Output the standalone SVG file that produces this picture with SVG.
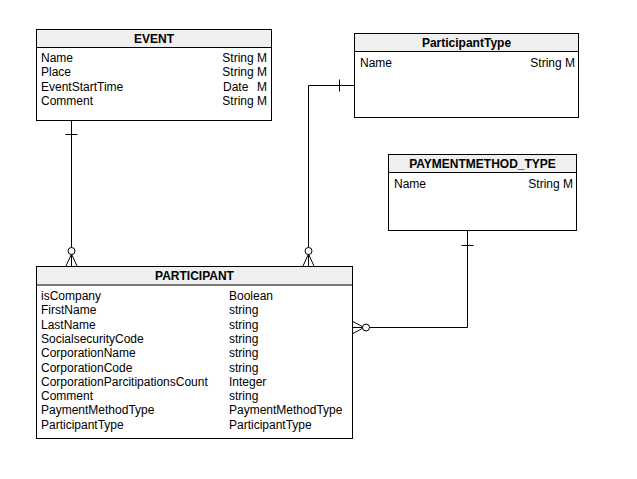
<svg xmlns="http://www.w3.org/2000/svg" width="637" height="479" viewBox="0 0 637 479">
<style>
.box{fill:#ffffff;stroke:#000;stroke-width:1}
.hdr{fill:#efefef;stroke:#000;stroke-width:1}
.t{font-family:"Liberation Sans",Arial,sans-serif;font-size:12px;fill:#000}
.h{font-family:"Liberation Sans",Arial,sans-serif;font-size:12px;font-weight:bold;fill:#000;text-anchor:middle}
.e{text-anchor:end}
.ln{fill:none;stroke:#000;stroke-width:1}
.c{fill:#fff;stroke:#000;stroke-width:1}
</style>
<rect width="637" height="479" fill="#fff"/>
<g id="connectors">
  <path class="ln" d="M71.5,120 V266"/>
  <path class="ln" d="M65.5,134.5 H77.5"/>
  <path class="ln" d="M66,266 L71.5,254 L77,266"/>
  <circle class="c" cx="71.5" cy="251" r="3.5"/>
  <path class="ln" d="M355,85.5 H308.5 V266"/>
  <path class="ln" d="M339.5,79.5 V91.5"/>
  <path class="ln" d="M303,266 L308.5,254 L314,266"/>
  <circle class="c" cx="308.5" cy="251" r="3.5"/>
  <path class="ln" d="M467.5,230 V327.5 H352"/>
  <path class="ln" d="M461.5,245.5 H473.5"/>
  <path class="ln" d="M352,321 L364,327.5 L352,334"/>
  <circle class="c" cx="366" cy="327.5" r="3.5"/>
</g>
<g id="event">
  <rect class="box" x="36.5" y="29.5" width="235" height="91"/>
  <rect class="hdr" x="36.5" y="29.5" width="235" height="18"/>
  <text class="h" x="154" y="42.5">EVENT</text>
  <text class="t" x="41" y="62">Name</text>
  <text class="t e" x="267" y="62">String M</text>
  <text class="t" x="41" y="76">Place</text>
  <text class="t e" x="267" y="76">String M</text>
  <text class="t" x="41" y="90.5">EventStartTime</text>
  <text class="t" x="223" y="90.5">Date</text>
  <text class="t e" x="267" y="90.5">M</text>
  <text class="t" x="41" y="105">Comment</text>
  <text class="t e" x="267" y="105">String M</text>
</g>
<g id="participanttype">
  <rect class="box" x="354.5" y="33.5" width="224" height="84"/>
  <rect class="hdr" x="354.5" y="33.5" width="224" height="18"/>
  <text class="h" x="466.5" y="46.5">ParticipantType</text>
  <text class="t" x="360" y="67">Name</text>
  <text class="t e" x="575" y="67">String M</text>
</g>
<g id="paymentmethod_type">
  <rect class="box" x="388.5" y="154.5" width="188" height="76"/>
  <rect class="hdr" x="388.5" y="154.5" width="188" height="18"/>
  <text class="h" x="482.5" y="167.5">PAYMENTMETHOD_TYPE</text>
  <text class="t" x="394" y="188">Name</text>
  <text class="t e" x="573" y="188">String M</text>
</g>
<g id="participant">
  <rect class="box" x="36.5" y="266.5" width="316" height="172"/>
  <rect class="hdr" x="36.5" y="266.5" width="316" height="18.5"/>
  <text class="h" x="194.5" y="279.5">PARTICIPANT</text>
  <text class="t" x="41" y="300">isCompany</text><text class="t" x="229" y="300">Boolean</text>
  <text class="t" x="41" y="314.3">FirstName</text><text class="t" x="229" y="314.3">string</text>
  <text class="t" x="41" y="328.6">LastName</text><text class="t" x="229" y="328.6">string</text>
  <text class="t" x="41" y="342.9">SocialsecurityCode</text><text class="t" x="229" y="342.9">string</text>
  <text class="t" x="41" y="357.2">CorporationName</text><text class="t" x="229" y="357.2">string</text>
  <text class="t" x="41" y="371.5">CorporationCode</text><text class="t" x="229" y="371.5">string</text>
  <text class="t" x="41" y="385.8">CorporationParcitipationsCount</text><text class="t" x="229" y="385.8">Integer</text>
  <text class="t" x="41" y="400.1">Comment</text><text class="t" x="229" y="400.1">string</text>
  <text class="t" x="41" y="414.4">PaymentMethodType</text><text class="t" x="229" y="414.4">PaymentMethodType</text>
  <text class="t" x="41" y="428.7">ParticipantType</text><text class="t" x="229" y="428.7">ParticipantType</text>
</g>
</svg>
